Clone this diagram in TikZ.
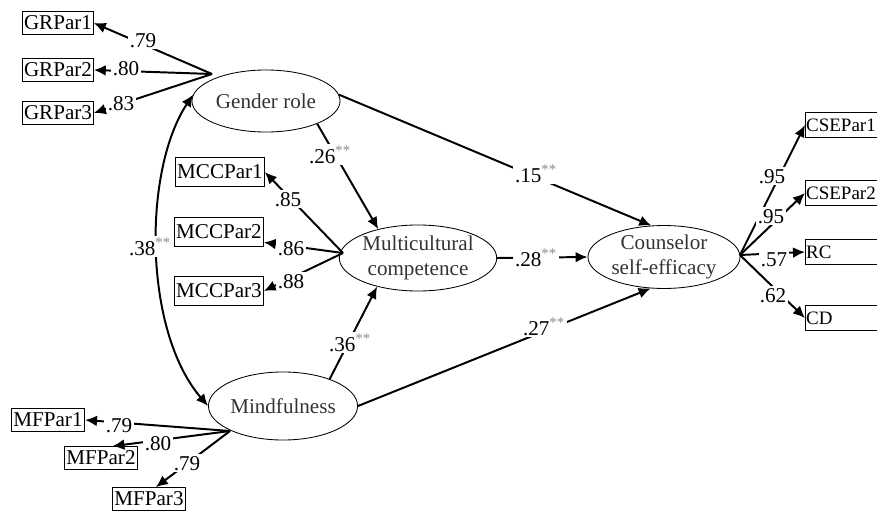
\documentclass[tikz,border=0pt]{standalone}
\usepackage{fontspec}
\setmainfont{Liberation Serif}
\usetikzlibrary{arrows.meta, shapes.geometric}
\newcommand{\sg}[1]{#1\textsuperscript{\color{black!45}**}}

\begin{document}
\begin{tikzpicture}[x=0.025cm, y=-0.025cm, font=\fontsize{15}{18}\selectfont,
	lat/.style={draw, ellipse, line width=0.6pt, text=black!80, align=center, inner sep=0pt},
	obs/.style={draw, rectangle, line width=0.6pt, inner sep=1pt},
	grbox/.style={obs, minimum width=1.75cm, minimum height=0.58cm},
	mccbox/.style={obs, minimum width=2.22cm, minimum height=0.72cm},
	mfbox/.style={obs, minimum width=1.83cm, minimum height=0.57cm},
	csebox/.style={obs, anchor=west, text width=2.3cm, align=left, inner xsep=0.5pt, minimum height=0.62cm, font=\fontsize{13.5}{16}\selectfont},
	effect/.style={-{Latex[length=3mm, width=2.7mm]}, line width=1.4pt},
	coef/.style={fill=white, inner sep=1.5pt, anchor=base}]
	\useasboundingbox (0,0) rectangle (877,513);
	
	% --- latent variables ---
	\node[lat, minimum width=3.7cm, minimum height=1.55cm] (gr) at (266,101) {Gender role};
	\node[lat, minimum width=3.8cm, minimum height=1.65cm] (mc) at (418,258) {Multicultural\\competence};
	\node[lat, minimum width=3.8cm, minimum height=1.5cm] (cse) at (664,257) {Counselor\\self-efficacy};
	\node[lat, minimum width=3.6cm, minimum height=1.7cm] (mf) at (283,406) {Mindfulness};
	
	% --- indicators ---
	\node[grbox] (gr1) at (58,23) {GRPar1};
	\node[grbox] (gr2) at (58,70) {GRPar2};
	\node[grbox] (gr3) at (58,113) {GRPar3};
	
	\node[mccbox] (mcc1) at (220,172) {MCCPar1};
	\node[mccbox] (mcc2) at (219,232) {MCCPar2};
	\node[mccbox] (mcc3) at (219,291) {MCCPar3};
	
	\node[mfbox] (mf1) at (48,420) {MFPar1};
	\node[mfbox] (mf2) at (101,458) {MFPar2};
	\node[mfbox] (mf3) at (149,499) {MFPar3};
	
	\node[csebox] (csep1) at (805,125) {CSEPar1};
	\node[csebox] (csep2) at (805,193) {CSEPar2};
	\node[csebox] (rc) at (805,252) {RC};
	\node[csebox] (cd) at (805,318) {CD};
	
	% hubs where the loadings leave each ellipse
	\coordinate (grhub) at (212,74);
	\coordinate (mchub) at (343,253);
	\coordinate (mfhub) at (230,431);
	\coordinate (csehub) at (740,255);
	
	% --- measurement paths ---
	\foreach \ind in {gr1, gr2, gr3}
		\draw[effect] (grhub) -- (\ind.east);
	\draw[effect] (mchub) -- (mcc1.east);
	\draw[effect] (mchub) -- (mcc2.-13);
	\draw[effect] (mchub) -- (mcc3.east);
	\draw[effect] (mfhub) -- (mf1.east);
	\draw[effect] (mfhub) -- (mf2.46);
	\draw[effect] (mfhub) -- (mf3.60);
	\foreach \ind in {csep1, csep2, rc, cd}
		\draw[effect] (csehub) -- (\ind.west);
	
	% --- structural paths ---
	\draw[effect] (gr.-24) -- (mc.144);
	\draw[effect] (gr.5) -- (cse.112);
	\draw[effect] (mc.east) -- (cse.west);
	\draw[effect] (mf.30) -- (mc.215);
	\draw[effect] (mf.east) -- (cse.247);
	\draw[{Latex[length=3mm, width=2.7mm]}-{Latex[length=3mm, width=2.7mm]}, line width=1.4pt]
		(gr.175) .. controls (143,170) and (143,330) .. (mf.180);
	
	% --- coefficients ---
	\node[coef] at (143,47) {.79};
	\node[coef] at (126,75) {.80};
	\node[coef] at (121,110) {.83};
	\node[coef] at (288,206) {.85};
	\node[coef] at (291,255) {.86};
	\node[coef] at (291,288) {.88};
	\node[coef] at (119,432) {.79};
	\node[coef] at (158,450) {.80};
	\node[coef] at (187,470) {.79};
	\node[coef] at (772,183) {.95};
	\node[coef] at (771,223) {.95};
	\node[coef] at (774,266) {.57};
	\node[coef] at (773,302) {.62};
	\node[coef] at (330,163) {\sg{.26}};
	\node[coef] at (536,182) {\sg{.15}};
	\node[coef] at (536,266) {\sg{.28}};
	\node[coef] at (350,351) {\sg{.36}};
	\node[coef] at (544,335) {\sg{.27}};
	\node[coef] at (150,255) {\sg{.38}};
\end{tikzpicture}
\end{document}
